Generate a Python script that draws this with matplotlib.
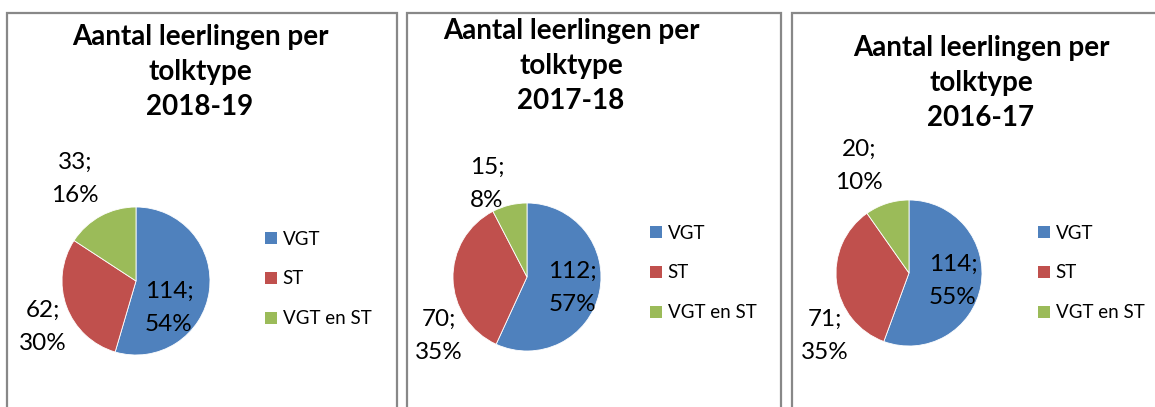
import matplotlib
matplotlib.use("Agg")
import matplotlib.pyplot as plt
from matplotlib.patches import Rectangle, Patch

plt.rcParams['font.family'] = ['Lato', 'DejaVu Sans']

categories = ['VGT', 'ST', 'VGT en ST']
years = ['2018-19', '2017-18', '2016-17']
counts = [[114, 62, 33], [112, 70, 15], [114, 71, 20]]
percents = [[54, 30, 16], [57, 35, 8], [55, 35, 10]]
colors = ['#4F81BD', '#C0504D', '#9BBB59']

W, H = 1155, 407
fig = plt.figure(figsize=(W / 100, H / 100), dpi=100)


def fx(x):
    return x / W


def fy(y):
    return 1 - y / H


# layout per panel (pixels): frame, pie center, radius, title center, legend, label spots
panels = [
    dict(frame=(7, 397), top=13, center=(136, 281), r=74, title=(200, 72),
         legend=(265, 279), labels=[(169, 308), (43, 327), (75, 179)]),
    dict(frame=(407, 781), top=13, center=(527, 277), r=74, title=(571, 66),
         legend=(650, 273), labels=[(572, 288), (439, 336), (487, 184)]),
    dict(frame=(792, 1158), top=13, center=(909, 273), r=73, title=(981, 83),
         legend=(1038, 273), labels=[(953, 281), (825, 336), (859, 166)]),
]

for i, p in enumerate(panels):
    x0, x1 = p['frame']
    fig.patches.append(Rectangle((fx(x0), fy(H + 10)), fx(x1 - x0), (H + 10 - p['top']) / H,
                                 transform=fig.transFigure, fill=False,
                                 edgecolor='#888888', linewidth=1.6))

    cx, cy = p['center']
    r = p['r']
    ax = fig.add_axes([fx(cx - r), fy(cy + r), fx(2 * r), 2 * r / H])
    wedges, _ = ax.pie(counts[i], colors=colors, startangle=90, counterclock=False,
                       wedgeprops=dict(edgecolor='white', linewidth=0.6))
    ax.set_xlim(-1, 1)
    ax.set_ylim(-1, 1)
    ax.axis('off')

    for j, (lx, ly) in enumerate(p['labels']):
        fig.text(fx(lx), fy(ly), f"{counts[i][j]};\n{percents[i][j]}%",
                 ha='center', va='center', fontsize=17.5, linespacing=1.72, color='black')

    tx, ty = p['title']
    fig.text(fx(tx), fy(ty), f"Aantal leerlingen per\ntolktype\n{years[i]}",
             ha='center', va='center', fontsize=20, fontweight='bold', linespacing=1.45)

    lx, ly = p['legend']
    handles = [Patch(facecolor=c, edgecolor='none') for c in colors]
    fig.legend(handles, categories, loc='center left', bbox_to_anchor=(fx(lx), fy(ly)),
               frameon=False, fontsize=13.5, handlelength=0.65, handleheight=0.65,
               handletextpad=0.3, labelspacing=1.22, borderpad=0, borderaxespad=0)

fig.savefig('out.png', dpi=100, facecolor='white')
